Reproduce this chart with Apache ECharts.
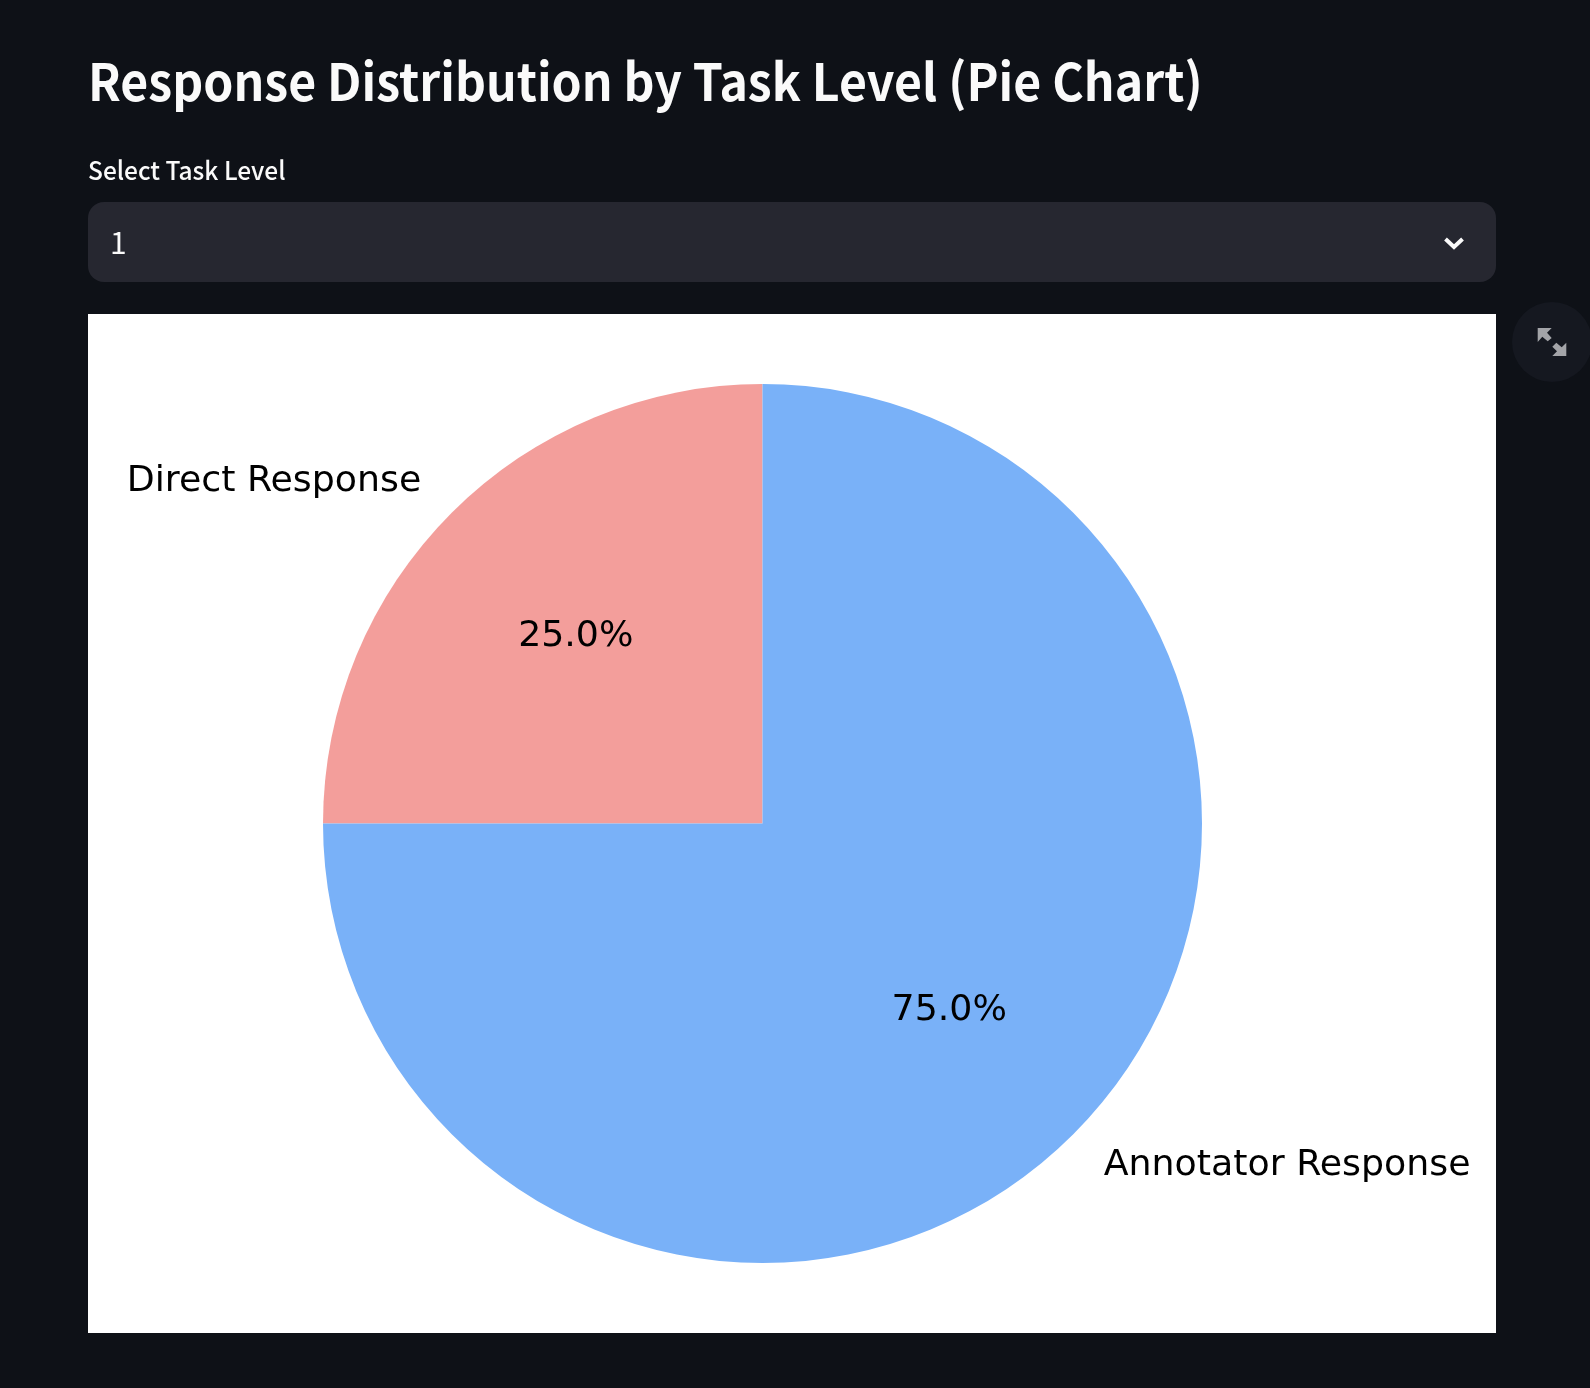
<!DOCTYPE html>
<html><head><meta charset="utf-8">
<style>html,body{margin:0;padding:0;background:#0e1117}#c{width:1590px;height:1388px}</style>
<script src="https://cdn.jsdelivr.net/npm/echarts@6/dist/echarts.min.js"></script>
</head><body><div id="c"></div>
<script>
const pageTitle = "Response Distribution by Task Level (Pie Chart)";
const selectLabel = "Select Task Level";
const selectValue = "1";
const categories = ["Direct Response", "Annotator Response"];
const values = [25, 75];
const colors = ["#f39e9b", "#79b1f8"];

const UI = '"Noto Sans CJK SC","Noto Sans",sans-serif';
const PLOT = '"DejaVu Sans",sans-serif';
const CX = 762.5, CY = 823.5, R = 439.5;
const data = categories.map((name, i) => ({ name, value: values[i], itemStyle: { color: colors[i] } }));
const hidden = { color: "transparent" };

const chart = echarts.init(document.getElementById("c"), null, { renderer: "canvas" });
chart.setOption({
  backgroundColor: "#0e1117",
  animation: false,
  tooltip: { show: false },
  graphic: { elements: [
    { type: "rect", z: 0, shape: { x: 88, y: 202, width: 1408, height: 80, r: 16 }, style: { fill: "#262730" } },
    { type: "rect", z: 0, shape: { x: 88, y: 314, width: 1408, height: 1019 }, style: { fill: "#ffffff" } },
    { type: "circle", z: 0, shape: { cx: 1552, cy: 342, r: 40 }, style: { fill: "#151820" } },
    { type: "text", z: 5, x: 88, y: 81, scaleX: 0.936, style: { text: pageTitle, fill: "#fafafa", font: "600 51.5px " + UI, textVerticalAlign: "middle" } },
    { type: "text", z: 5, x: 88, y: 170, scaleX: 0.96, style: { text: selectLabel, fill: "#fafafa", font: "500 25.5px " + UI, textVerticalAlign: "middle" } },
    { type: "text", z: 5, style: { x: 110, y: 243, text: selectValue, fill: "#fafafa", font: "400 30px " + UI, textVerticalAlign: "middle" } },
    { type: "polyline", z: 5, shape: { points: [[1445.5, 239], [1454, 247], [1462.5, 239]] }, style: { stroke: "#fafafa", lineWidth: 4, fill: null } },
    { type: "polygon", z: 5, shape: { points: [[1537.7, 328], [1551.7, 328], [1547, 332.7], [1551.7, 338], [1547.7, 341.3], [1542.3, 336.7], [1537.7, 342]] }, style: { fill: "#a3a4a8" } },
    { type: "polygon", z: 5, shape: { points: [[1566.3, 356], [1552.3, 356], [1557, 351.3], [1552.3, 346.7], [1556.3, 342.7], [1561.7, 347.3], [1566.3, 342.7]] }, style: { fill: "#a3a4a8" } }
  ]},
  series: [
    { type: "pie", z: 2, silent: true, center: [CX, CY], radius: [0, R], startAngle: 90, clockwise: false,
      data, avoidLabelOverlap: false,
      label: { show: true, position: "outside", formatter: "{b}", color: "#000000", fontFamily: PLOT, fontSize: 36.3, distanceToLabelLine: 0 },
      labelLayout: (p) => ({ dy: p.dataIndex === 0 ? -1 : 1 }),
      labelLine: { show: false, length: R * 0.098, length2: 0 } },
    { type: "pie", z: 3, silent: true, center: [CX, CY], radius: [0, R * 1.188], startAngle: 90, clockwise: false,
      data: categories.map((name, i) => ({ name, value: values[i], itemStyle: hidden })),
      label: { show: true, position: "inside", rotate: 0, formatter: (p) => p.percent.toFixed(1) + "%", color: "#000000", fontFamily: PLOT, fontSize: 36.3 },
      labelLine: { show: false } }
  ]
});
</script></body></html>
